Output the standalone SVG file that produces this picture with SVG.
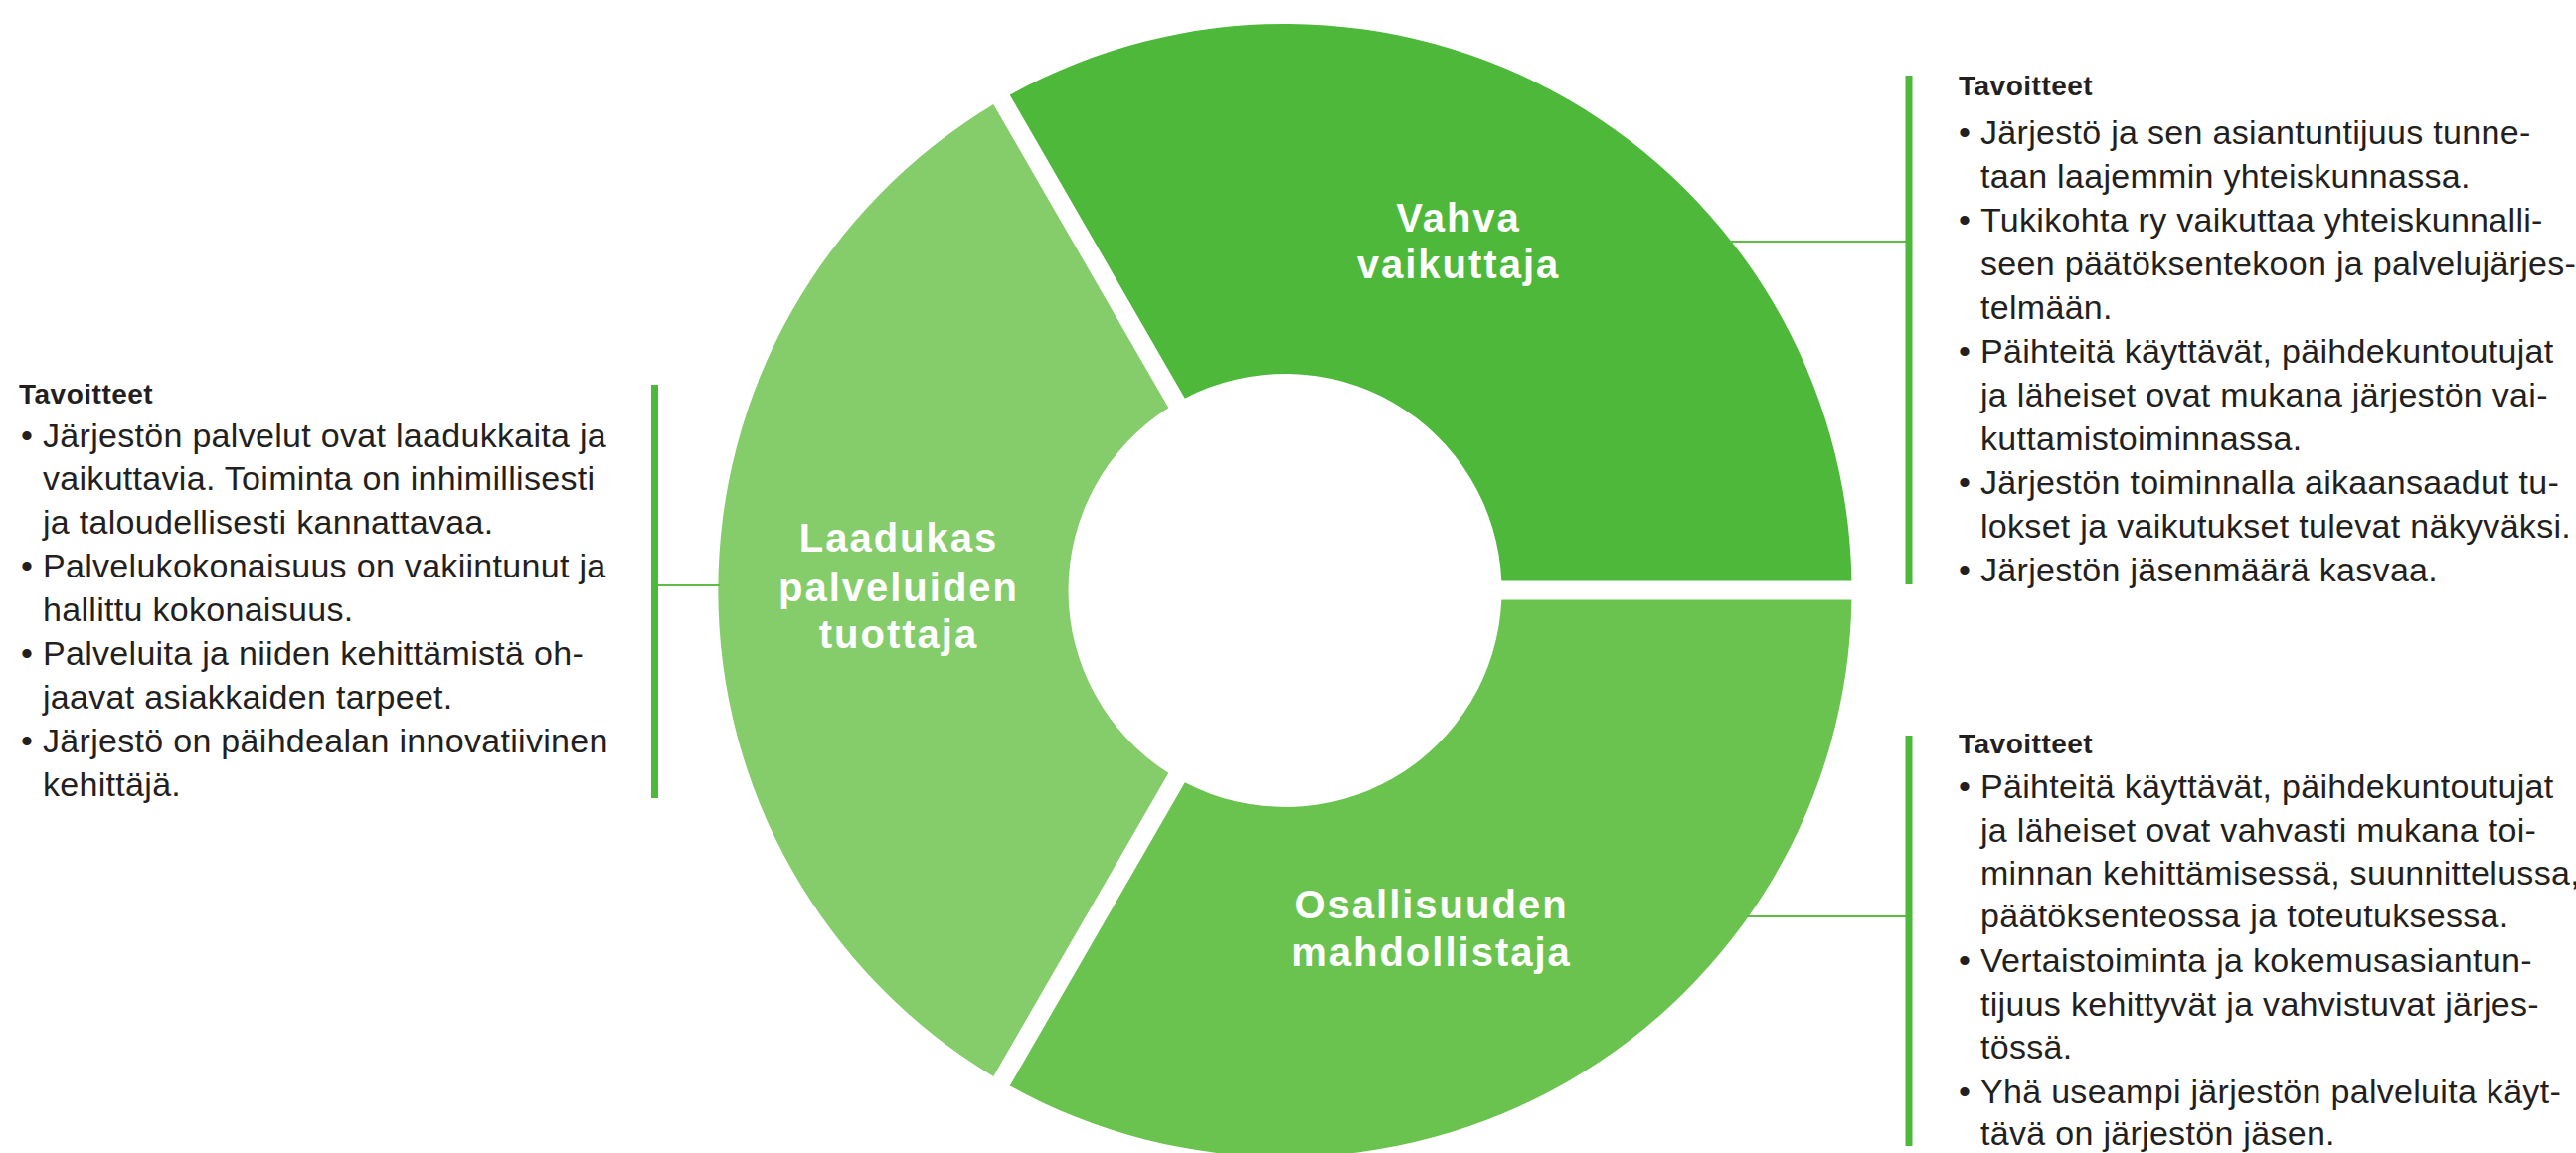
<svg xmlns="http://www.w3.org/2000/svg" width="2591" height="1160" viewBox="0 0 2591 1160">
<style>
.body{font-family:"Liberation Sans",Arial,sans-serif;font-size:34px;fill:#231f20;letter-spacing:0.3px}
.head{font-family:"Liberation Sans",Arial,sans-serif;font-size:28px;font-weight:bold;fill:#231f20;letter-spacing:0.5px}
.lab{font-family:"Liberation Sans",Arial,sans-serif;font-size:40px;font-weight:bold;fill:#ffffff;letter-spacing:2px;text-anchor:middle}
.bar{stroke:#4db83a;stroke-width:7;fill:none}
.con{stroke:#5dbd45;stroke-width:2.2;fill:none}
</style>
<rect width="2591" height="1160" fill="#ffffff"/>
<g id="seg-vahva">
<path d="M 1015.73 95.61 A 570 570 0 0 1 1862.42 584.5 L 1510.29 584.5 A 218 218 0 0 0 1191.84 400.63 Z" fill="#4db83a"/>
<text class="lab" x="1467" y="233">Vahva</text>
<text class="lab" x="1467" y="280">vaikuttaja</text>
</g>
<g id="seg-osallisuuden">
<path d="M 1862.42 603.5 A 570 570 0 0 1 1015.73 1092.39 L 1191.84 787.37 A 218 218 0 0 0 1510.29 603.5 Z" fill="#6ac34f"/>
<text class="lab" x="1440" y="924">Osallisuuden</text>
<text class="lab" x="1440" y="972">mahdollistaja</text>
</g>
<g id="seg-laadukas">
<path d="M 999.27 1082.89 A 570 570 0 0 1 999.27 105.11 L 1175.37 410.14 A 218 218 0 0 0 1175.37 777.86 Z" fill="#85cc6b"/>
<text class="lab" x="904" y="555">Laadukas</text>
<text class="lab" x="904" y="605">palveluiden</text>
<text class="lab" x="904" y="652">tuottaja</text>
</g>
<g id="connectors">
<line class="con" x1="661" y1="589" x2="724" y2="589"/>
<line class="con" x1="1740" y1="243" x2="1917" y2="243"/>
<line class="con" x1="1757" y1="922" x2="1917" y2="922"/>
</g>
<g id="panel-left">
<line class="bar" x1="658.5" y1="387" x2="658.5" y2="803"/>
<text class="head" x="19" y="406">Tavoitteet</text>
<text class="body" x="21" y="450">•</text><text class="body" x="43" y="450">Järjestön palvelut ovat laadukkaita ja</text>
<text class="body" x="43" y="493">vaikuttavia. Toiminta on inhimillisesti</text>
<text class="body" x="43" y="537">ja taloudellisesti kannattavaa.</text>
<text class="body" x="21" y="581">•</text><text class="body" x="43" y="581">Palvelukokonaisuus on vakiintunut ja</text>
<text class="body" x="43" y="625">hallittu kokonaisuus.</text>
<text class="body" x="21" y="669">•</text><text class="body" x="43" y="669">Palveluita ja niiden kehittämistä oh-</text>
<text class="body" x="43" y="713">jaavat asiakkaiden tarpeet.</text>
<text class="body" x="21" y="757">•</text><text class="body" x="43" y="757">Järjestö on päihdealan innovatiivinen</text>
<text class="body" x="43" y="801">kehittäjä.</text>
</g>
<g id="panel-top-right">
<line class="bar" x1="1920" y1="76" x2="1920" y2="588"/>
<text class="head" x="1970" y="96">Tavoitteet</text>
<text class="body" x="1970" y="145">•</text><text class="body" x="1992" y="145">Järjestö ja sen asiantuntijuus tunne-</text>
<text class="body" x="1992" y="189">taan laajemmin yhteiskunnassa.</text>
<text class="body" x="1970" y="233">•</text><text class="body" x="1992" y="233">Tukikohta ry vaikuttaa yhteiskunnalli-</text>
<text class="body" x="1992" y="277">seen päätöksentekoon ja palvelujärjes-</text>
<text class="body" x="1992" y="321">telmään.</text>
<text class="body" x="1970" y="365">•</text><text class="body" x="1992" y="365">Päihteitä käyttävät, päihdekuntoutujat</text>
<text class="body" x="1992" y="409">ja läheiset ovat mukana järjestön vai-</text>
<text class="body" x="1992" y="453">kuttamistoiminnassa.</text>
<text class="body" x="1970" y="497">•</text><text class="body" x="1992" y="497">Järjestön toiminnalla aikaansaadut tu-</text>
<text class="body" x="1992" y="541">lokset ja vaikutukset tulevat näkyväksi.</text>
<text class="body" x="1970" y="585">•</text><text class="body" x="1992" y="585">Järjestön jäsenmäärä kasvaa.</text>
</g>
<g id="panel-bottom-right">
<line class="bar" x1="1920" y1="740" x2="1920" y2="1153"/>
<text class="head" x="1970" y="758">Tavoitteet</text>
<text class="body" x="1970" y="803">•</text><text class="body" x="1992" y="803">Päihteitä käyttävät, päihdekuntoutujat</text>
<text class="body" x="1992" y="847">ja läheiset ovat vahvasti mukana toi-</text>
<text class="body" x="1992" y="890">minnan kehittämisessä, suunnittelussa,</text>
<text class="body" x="1992" y="933">päätöksenteossa ja toteutuksessa.</text>
<text class="body" x="1970" y="978">•</text><text class="body" x="1992" y="978">Vertaistoiminta ja kokemusasiantun-</text>
<text class="body" x="1992" y="1022">tijuus kehittyvät ja vahvistuvat järjes-</text>
<text class="body" x="1992" y="1065">tössä.</text>
<text class="body" x="1970" y="1110">•</text><text class="body" x="1992" y="1110">Yhä useampi järjestön palveluita käyt-</text>
<text class="body" x="1992" y="1152">tävä on järjestön jäsen.</text>
</g>
</svg>
